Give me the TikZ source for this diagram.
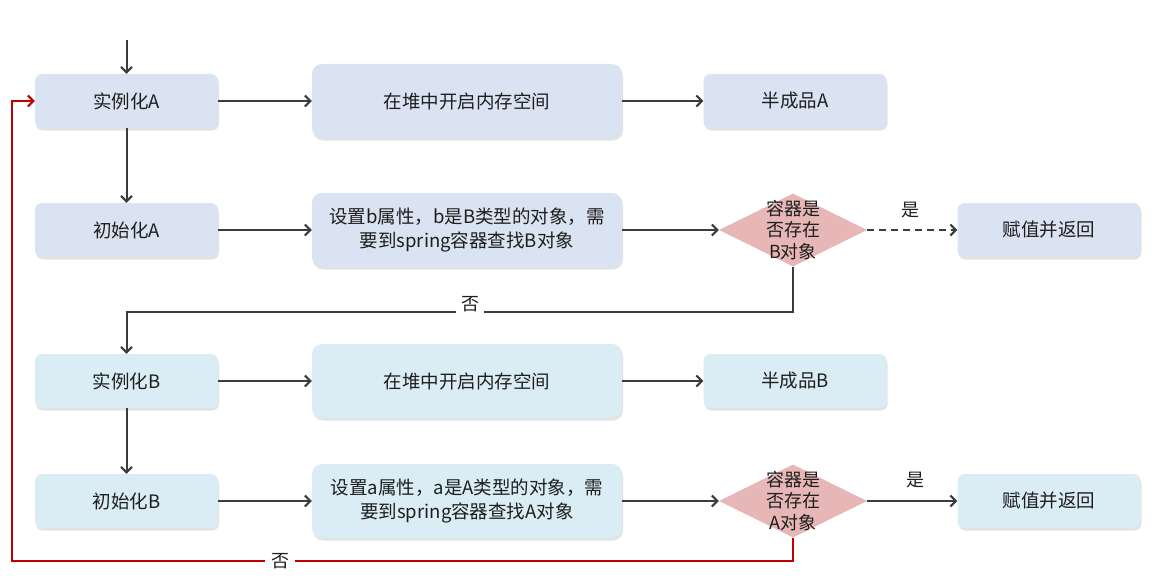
\documentclass[tikz,border=0pt]{standalone}
\usepackage{fontspec}
\setmainfont{Noto Sans CJK SC}
\usetikzlibrary{shapes.geometric,arrows.meta,shadows}
\definecolor{boxA}{HTML}{DAE3F1}
\definecolor{boxB}{HTML}{DAEDF4}
\definecolor{diaF}{HTML}{E6B7B6}
\definecolor{lnC}{HTML}{3C3C3C}
\definecolor{redC}{HTML}{C00000}
\definecolor{txtC}{HTML}{1E1E1E}
\begin{document}
\begin{tikzpicture}[x=1pt,y=-1pt,
  box/.style={rounded corners=7pt, minimum width=183pt, minimum height=54pt, inner sep=0pt,
    font=\fontsize{18.5}{24}\selectfont, text=txtC, align=center,
    drop shadow={shadow xshift=1pt,shadow yshift=-2.5pt,opacity=0.22}},
  bigbox/.style={box, minimum width=310pt, minimum height=74pt, rounded corners=10pt},
  fa/.style={fill=boxA}, fb/.style={fill=boxB},
  dia/.style={diamond, fill=diaF, minimum width=148pt, minimum height=73pt, inner sep=0pt},
  dtext/.style={font=\fontsize{18}{21.5}\selectfont, text=txtC, align=center, inner sep=0pt},
  lbl/.style={font=\fontsize{18}{21}\selectfont, text=txtC, inner sep=2pt},
  arr/.style={draw=lnC, line width=2pt, -{Straight Barb[length=5.5pt,width=11pt,line width=2pt]}},
  rarr/.style={draw=redC, line width=2pt, -{Straight Barb[length=5.5pt,width=11pt,line width=2pt]}},
  dsh/.style={dash pattern=on 7pt off 5pt}
]
\useasboundingbox (0,0) rectangle (1154,586);
\fill[white] (0,0) rectangle (1154,586);

% row 1
\node[box,fa] (aA) at (126.5,101) {实例化A};
\node[bigbox,fa] (hA) at (467,101) {在堆中开启内存空间};
\node[box,fa] (pA) at (795,101) {半成品A};
% row 2
\node[box,fa] (iA) at (126.5,230) {初始化A};
\node[bigbox,fa] (sA) at (467,230) {设置b属性，b是B类型的对象，需\\要到spring容器查找B对象};
\node[dia] (dB) at (793,230) {};
\node[dtext] (dBt) at (793,230) {容器是\\否存在\\B对象};
\node[box,fa] (rA) at (1049,230) {赋值并返回};
% row 3
\node[box,fb] (bB) at (126.5,381) {实例化B};
\node[bigbox,fb] (hB) at (467,381) {在堆中开启内存空间};
\node[box,fb] (pB) at (795,381) {半成品B};
% row 4
\node[box,fb] (iB) at (126.5,501) {初始化B};
\node[bigbox,fb] (sB) at (467,501) {设置a属性，a是A类型的对象，需\\要到spring容器查找A对象};
\node[dia] (dA) at (793,501) {};
\node[dtext] (dAt) at (793,501) {容器是\\否存在\\A对象};
\node[box,fb] (rB) at (1049,501) {赋值并返回};

\coordinate (start) at (126.5,40);
\draw[arr] (start) -- (aA);
\draw[arr] (aA) -- (hA);
\draw[arr] (hA) -- (pA);
\draw[arr] (aA) -- (iA);
\draw[arr] (iA) -- (sA);
\draw[arr] (sA) -- (dB);
\draw[arr,dsh] (dB) -- (rA);
\node[lbl] (y1) at (910,210) {是};
\draw[arr] (dB.south) -- ++(0,45) -| (bB.north);
\node[lbl,fill=white,inner xsep=5pt] (n1) at (470,304) {否};

\draw[arr] (bB) -- (hB);
\draw[arr] (hB) -- (pB);
\draw[arr] (bB) -- (iB);
\draw[arr] (iB) -- (sB);
\draw[arr] (sB) -- (dA);
\draw[arr] (dA) -- (rB);
\node[lbl] (y2) at (915,480) {是};
\draw[rarr] (dA.south) -- ++(0,23) -| ([xshift=-23pt]aA.west) -- (aA.west);
\node[lbl,fill=white,inner xsep=6pt] (n2) at (280,561) {否};
\end{tikzpicture}
\end{document}
